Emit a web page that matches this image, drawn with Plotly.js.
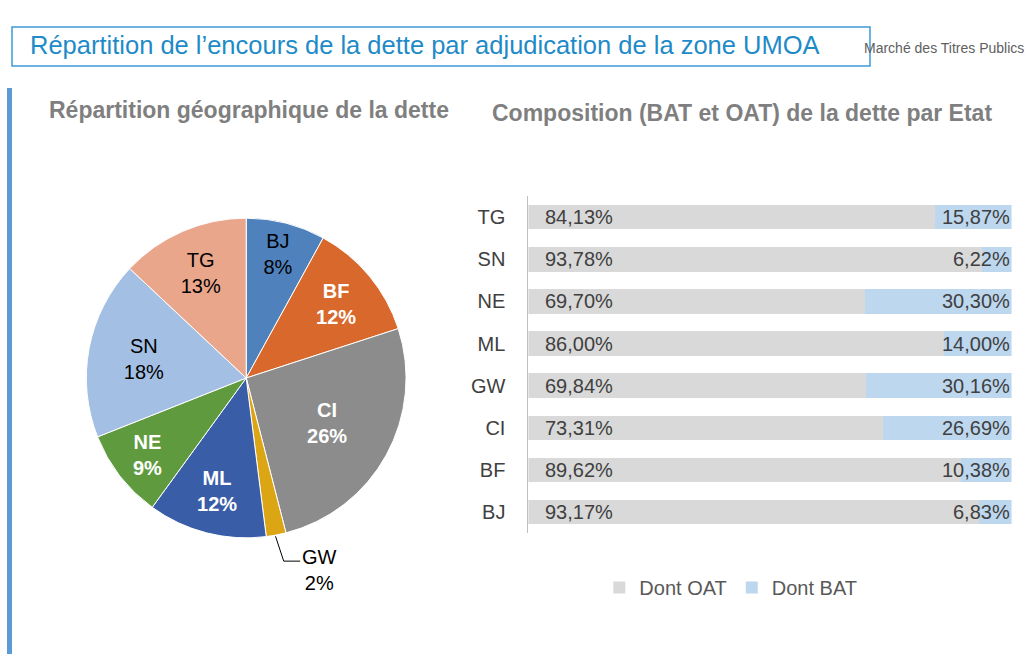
<!DOCTYPE html>
<html><head><meta charset="utf-8">
<script src="https://cdn.plot.ly/plotly-3.0.1.min.js"></script>
<style>body{margin:0}#c{width:1028px;height:654px}</style>
</head><body><div id="c"></div>
<script>
const pieLabels = ["BJ","BF","CI","GW","ML","NE","SN","TG"];
const pieValues = [8,12,26,2,12,9,18,13];
const pieColors = ["#4f81bd","#d8682b","#8c8c8c","#dba514","#3a5da8","#5f9b3e","#a3bfe3","#e9a68b"];
const pieTextColors = ["#000","#fff","#fff","#000","#fff","#fff","#000","#000"];

const states = ["BJ","BF","CI","GW","ML","NE","SN","TG"];
const oat = [93.17,89.62,73.31,69.84,86.00,69.70,93.78,84.13];
const bat = [6.83,10.38,26.69,30.16,14.00,30.30,6.22,15.87];

const fmt = v => v.toFixed(2).replace(".", ",") + "%";
const F = "Liberation Sans, Arial, sans-serif";

const pieText = pieLabels.map((l, i) => l === "GW" ? "" :
  (pieTextColors[i] === "#fff" ? "<b>" + l + "<br>" + pieValues[i] + "%</b>" : l + "<br>" + pieValues[i] + "%"));

const traces = [
  {type:"pie", labels:pieLabels, values:pieValues, sort:false, direction:"clockwise", rotation:0,
   marker:{colors:pieColors, line:{color:"#fff", width:1}}, text:pieText, textinfo:"text",
   insidetextorientation:"horizontal", textposition:"inside",
   insidetextfont:{size:20, family:F, color:pieTextColors}, showlegend:false, hoverinfo:"label+percent",
   domain:{x:[0.084,0.395], y:[0.177,0.667]}},
  {type:"bar", orientation:"h", name:"Dont OAT", y:states, x:oat, marker:{color:"#d9d9d9"}, width:0.58},
  {type:"bar", orientation:"h", name:"Dont BAT", y:states, x:bat, marker:{color:"#bdd7ee"}, width:0.58}
];

const ann = [];
states.forEach((s, i) => {
  ann.push({x:3, y:s, xref:"x", yref:"y", text:fmt(oat[i]), showarrow:false, xanchor:"left", font:{size:20, family:F, color:"#404040"}});
  ann.push({x:100, y:s, xref:"x", yref:"y", text:fmt(bat[i]), showarrow:false, xanchor:"right", font:{size:20, family:F, color:"#404040"}});
});
const pa = (x, y, text, size, color, extra) => Object.assign({x:x/1028, y:1-y/654, xref:"paper", yref:"paper", xanchor:"left", yanchor:"middle",
  text:text, showarrow:false, font:{size:size, family:F, color:color}}, extra || {});
ann.push(pa(28, 45, "Répartition de l’encours de la dette par adjudication de la zone UMOA", 25.5, "#1e8bc8"));
ann.push(pa(47, 110, "<b>Répartition géographique de la dette</b>", 23, "#7f7f7f"));
ann.push(pa(490, 113, "<b>Composition (BAT et OAT) de la dette par Etat</b>", 23, "#7f7f7f"));
ann.push(pa(1026, 48, "Marché des Titres Publics", 14, "#606060", {xanchor:"right"}));
ann.push(pa(300, 570, "GW<br>2%", 20, "#000", {align:"center"}));

const layout = {
  width:1028, height:654, margin:{l:0,r:0,t:0,b:0}, paper_bgcolor:"#fff", plot_bgcolor:"#fff",
  barmode:"stack", font:{family:F},
  xaxis:{domain:[0.514,0.984], range:[0,100], showticklabels:false, showgrid:false, zeroline:false, fixedrange:true},
  yaxis:{domain:[0.185,0.70], showgrid:false, showline:true, linecolor:"#bfbfbf", ticks:"", ticklabelstandoff:18,
         tickfont:{size:20, family:F, color:"#404040"}, fixedrange:true},
  showlegend:true, legend:{orientation:"h", traceorder:"normal", x:0.583, y:1-568/654, xanchor:"left", yanchor:"top", font:{size:20, family:F, color:"#595959"}},
  annotations:ann,
  shapes:[
    {type:"rect", xref:"paper", yref:"paper", x0:12/1028, x1:870/1028, y0:1-66/654, y1:1-27/654, line:{color:"#3c9ad8", width:1.5}},
    {type:"rect", xref:"paper", yref:"paper", x0:7/1028, x1:12/1028, y0:0, y1:1-88/654, fillcolor:"#5b9bd5", line:{width:0}},
    {type:"path", xref:"paper", yref:"paper", path:"M 0.268 0.18 L 0.276 0.142 L 0.292 0.142", line:{color:"#000", width:1}}
  ]
};
Plotly.newPlot("c", traces, layout, {displayModeBar:false});
</script></body></html>
